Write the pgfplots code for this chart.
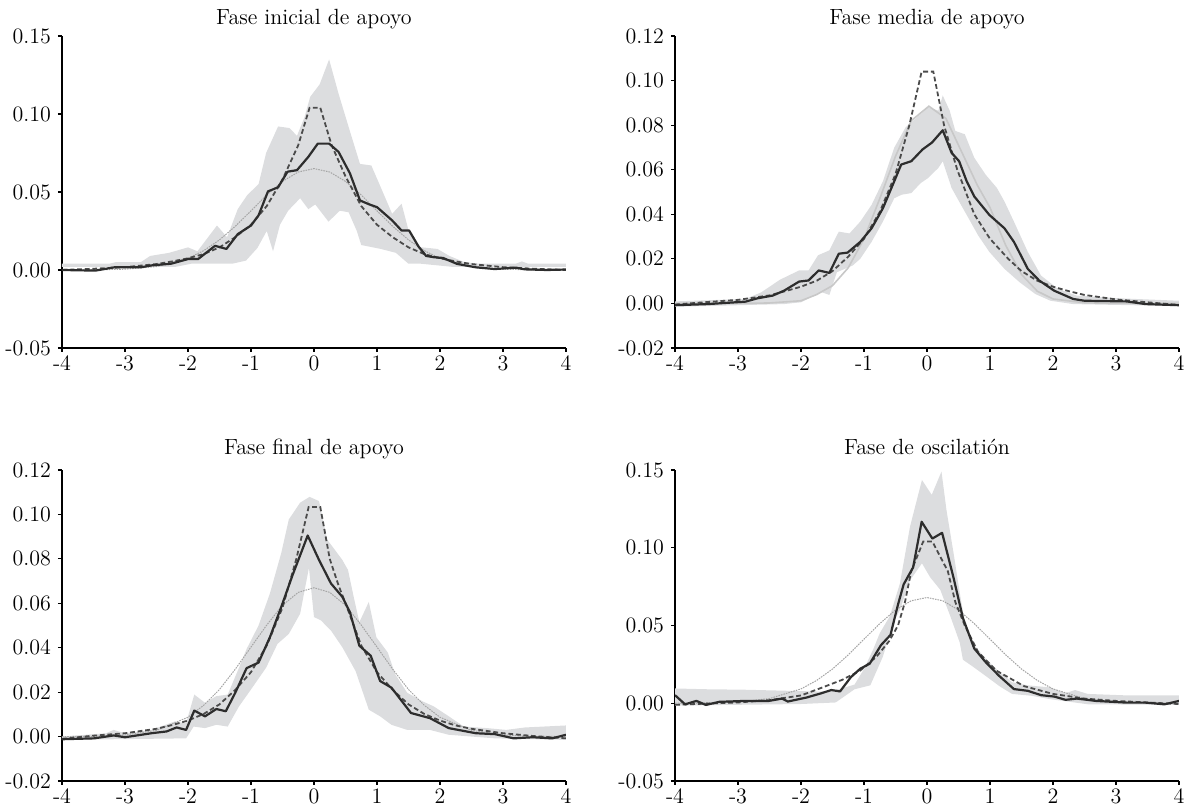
\documentclass[border=0pt]{standalone}
\usepackage{pgfplots}
\pgfplotsset{compat=1.18}
\definecolor{bandc}{RGB}{220,221,223}
\definecolor{solidc}{RGB}{45,45,45}
\definecolor{dashc}{RGB}{75,75,75}
\definecolor{normc}{RGB}{165,165,165}
\pgfplotsset{
  panel/.style={
    anchor=south west, scale only axis, width=252pt,
    xmin=-4, xmax=4, enlargelimits=false,
    axis x line*=bottom, axis y line*=left,
    axis line style={line width=0.6pt, black},
    xtick={-4,-3,-2,-1,0,1,2,3,4},
    xticklabels={-4,-3,-2,-1,0,1,2,3,4},
    tick align=outside, major tick length=2pt,
    tick style={line width=0.6pt, black},
    tick label style={font=\fontsize{11}{13}\selectfont},
    xticklabel style={yshift=1.5pt},
    title style={font=\fontsize{11}{13}\selectfont, at={(0.5,1)}, anchor=base},
  },
  bandfill/.style={fill=bandc, draw=none, forget plot},
  solidl/.style={solidc, line width=1.1pt, line join=round},
  dashl/.style={dashc, line width=0.9pt, dash pattern=on 2.4pt off 1.4pt},
  norml/.style={normc, line width=0.5pt, dash pattern=on 0.8pt off 0.5pt},
}
\begin{document}
\begin{tikzpicture}
\path[use as bounding box] (0,0) rectangle (594pt,403.5pt);

% ---------------- Panel 1 ----------------
\begin{axis}[panel, at={(31pt,229.5pt)}, height=156pt,
  ymin=-0.05, ymax=0.15,
  ytick={-0.05,0,0.05,0.1,0.15}, yticklabels={-0.05,0.00,0.05,0.10,0.15},
  title={Fase inicial de apoyo}, title style={yshift=-0.5pt}]
\addplot[bandfill] coordinates {
(-4,0.004) (-3.25,0.004) (-3.15,0.005) (-2.75,0.005) (-2.6,0.009) (-2.3,0.011) (-2.0,0.0145) (-1.85,0.012) (-1.54,0.0285) (-1.38,0.021) (-1.21,0.039) (-1.06,0.048) (-0.88,0.055) (-0.76,0.075) (-0.57,0.092) (-0.39,0.091) (-0.27,0.086) (-0.15,0.098) (-0.06,0.111) (0.09,0.119) (0.24,0.135) (0.39,0.113) (0.57,0.089) (0.73,0.068) (0.91,0.067) (1.06,0.053) (1.24,0.036) (1.39,0.0425) (1.51,0.024) (1.69,0.0146) (1.96,0.0135) (2.15,0.009) (2.39,0.005) (2.63,0.004) (3.2,0.004) (3.3,0.0055) (3.4,0.004) (4,0.004)
(4,0.002) (2.2,0.002) (1.7,0.004) (1.5,0.004) (1.3,0.011) (1.06,0.0135) (0.75,0.016) (0.68,0.025) (0.55,0.037) (0.41,0.038) (0.23,0.031) (0.02,0.042) (-0.09,0.039) (-0.22,0.046) (-0.41,0.038) (-0.54,0.029) (-0.65,0.012) (-0.75,0.025) (-0.9,0.014) (-1.08,0.006) (-1.3,0.004) (-1.95,0.004) (-2.2,0.002) (-4,0.002)};
\addplot[norml] coordinates {
(-4,0) (-3.5,0.0001) (-3,0.0005) (-2.5,0.0022) (-2,0.0075) (-1.75,0.0124) (-1.5,0.0193) (-1.25,0.028) (-1,0.0379) (-0.75,0.0481) (-0.5,0.0568) (-0.25,0.0628) (0,0.065) (0.25,0.0628) (0.5,0.0568) (0.75,0.0481) (1,0.0379) (1.25,0.028) (1.5,0.0193) (1.75,0.0124) (2,0.0075) (2.5,0.0022) (3,0.0005) (3.5,0.0001) (4,0)};
\addplot[dashl] coordinates {
(-4,0) (-3.5,0.0008) (-3,0.0018) (-2.5,0.0038) (-2.25,0.0055) (-2,0.0075) (-1.75,0.0102) (-1.5,0.0145) (-1.25,0.021) (-1,0.029) (-0.75,0.041) (-0.5,0.058) (-0.25,0.08) (-0.07,0.104) (0.1,0.104) (0.28,0.08) (0.5,0.06) (0.75,0.041) (1,0.029) (1.25,0.021) (1.5,0.0145) (1.75,0.0102) (2,0.0075) (2.25,0.0055) (2.5,0.0038) (3,0.0018) (3.5,0.0008) (4,0)};
\addplot[solidl] coordinates {
(-4,0) (-3.47,-0.0004) (-3.17,0.0017) (-2.75,0.0017) (-2.57,0.003) (-2.27,0.004) (-2.0,0.007) (-1.84,0.007) (-1.57,0.0155) (-1.39,0.0135) (-1.21,0.023) (-1.0,0.0285) (-0.88,0.035) (-0.73,0.0504) (-0.57,0.053) (-0.42,0.063) (-0.27,0.064) (-0.09,0.0725) (0.06,0.081) (0.24,0.081) (0.39,0.0757) (0.57,0.062) (0.73,0.0446) (0.88,0.042) (1.0,0.0403) (1.24,0.0318) (1.39,0.0253) (1.51,0.0253) (1.66,0.015) (1.78,0.009) (1.9,0.0082) (2.05,0.0077) (2.27,0.0039) (2.57,0.0017) (2.87,0.0006) (3.2,0.0015) (3.35,0.0004) (3.7,0) (4,0.0003)};
\end{axis}

% ---------------- Panel 2 ----------------
\begin{axis}[panel, at={(337.5pt,229.5pt)}, height=156pt,
  ymin=-0.02, ymax=0.12,
  ytick={-0.02,0,0.02,0.04,0.06,0.08,0.1,0.12}, yticklabels={-0.02,0.00,0.02,0.04,0.06,0.08,0.10,0.12},
  title={Fase media de apoyo}, title style={yshift=-0.5pt}]
\addplot[bandfill] coordinates {
(-4,0.0009) (-2.88,0.002) (-2.63,0.005) (-2.33,0.0107) (-2.03,0.0148) (-1.88,0.0148) (-1.73,0.0216) (-1.55,0.0238) (-1.40,0.0322) (-1.23,0.0314) (-1.06,0.0367) (-0.88,0.0442) (-0.70,0.0548) (-0.52,0.0699) (-0.34,0.079) (-0.16,0.0835) (0.02,0.088) (0.18,0.0865) (0.25,0.0933) (0.36,0.0865) (0.45,0.0774) (0.60,0.0759) (0.75,0.0654) (0.93,0.0578) (1.11,0.0518) (1.23,0.0457) (1.38,0.0367) (1.60,0.0231) (1.81,0.0125) (2.08,0.0065) (2.38,0.0035) (3.05,0.0023) (4,0.0012)
(4,-0.0012) (2.32,-0.0003) (1.96,0.0012) (1.72,0.0042) (1.47,0.0095) (1.23,0.0155) (0.99,0.0231) (0.81,0.0306) (0.66,0.0382) (0.51,0.0457) (0.39,0.0518) (0.25,0.0638) (0.18,0.0608) (0.02,0.0563) (-0.10,0.054) (-0.25,0.0495) (-0.40,0.0488) (-0.52,0.0472) (-0.7,0.0367) (-0.88,0.0276) (-1.06,0.020) (-1.18,0.017) (-1.43,0.014) (-1.55,0.0038) (-1.67,0.005) (-1.79,0.0035) (-2.0,0.0005) (-2.27,-0.0003) (-4,-0.0015)};
\addplot[color={rgb,255:red,200;green,200;blue,200}, line width=0.8pt] coordinates {
(-4,0) (-3,0) (-2.5,0.0002) (-2,0.0012) (-1.75,0.004) (-1.5,0.008) (-1.25,0.016) (-1,0.029) (-0.75,0.047) (-0.5,0.066) (-0.25,0.082) (0.03,0.0885) (0.3,0.083) (0.55,0.068) (0.8,0.053) (1.0,0.043) (1.25,0.026) (1.5,0.013) (1.75,0.0055) (2,0.002) (2.5,0.0003) (3,0) (4,0)};
\addplot[dashl] coordinates {
(-4,-0.0005) (-3.5,0.0006) (-3,0.0016) (-2.5,0.0036) (-2.25,0.0055) (-2,0.0075) (-1.75,0.0102) (-1.5,0.0145) (-1.25,0.021) (-1,0.029) (-0.75,0.041) (-0.5,0.058) (-0.28,0.08) (-0.085,0.104) (0.1,0.104) (0.27,0.08) (0.48,0.06) (0.75,0.04) (1,0.029) (1.29,0.02) (1.5,0.0145) (1.75,0.0102) (2,0.0075) (2.25,0.0055) (2.5,0.0038) (3,0.0018) (3.5,0.0005) (4,-0.0007)};
\addplot[solidl] coordinates {
(-4,-0.0008) (-3.48,-0.0003) (-2.88,0.0008) (-2.69,0.0023) (-2.45,0.0035) (-2.27,0.0057) (-2.03,0.0098) (-1.88,0.0103) (-1.72,0.0148) (-1.55,0.0137) (-1.40,0.0223) (-1.26,0.0228) (-1.06,0.0276) (-0.88,0.0337) (-0.70,0.0427) (-0.52,0.0548) (-0.41,0.0623) (-0.25,0.0638) (-0.07,0.0691) (0.08,0.0722) (0.25,0.0777) (0.39,0.0676) (0.51,0.0638) (0.63,0.0548) (0.75,0.048) (0.99,0.0397) (1.23,0.0337) (1.38,0.0276) (1.60,0.0155) (1.78,0.0103) (2.02,0.0057) (2.32,0.002) (2.50,0.0012) (3.17,0.0009) (3.47,-0.0003) (4,-0.0008)};
\end{axis}

% ---------------- Panel 3 ----------------
\begin{axis}[panel, at={(31pt,13pt)}, height=155.5pt,
  ymin=-0.02, ymax=0.12,
  ytick={-0.02,0,0.02,0.04,0.06,0.08,0.1,0.12}, yticklabels={-0.02,0.00,0.02,0.04,0.06,0.08,0.10,0.12},
  title={Fase final de apoyo}, title style={yshift=1.7pt}]
\addplot[bandfill] coordinates {
(-4,0.0) (-3.3,0.0015) (-3.18,0.003) (-3.0,0.0015) (-2.58,0.003) (-2.21,0.0068) (-2.03,0.006) (-1.90,0.0189) (-1.73,0.0152) (-1.55,0.0182) (-1.37,0.0189) (-1.19,0.031) (-1.07,0.0394) (-0.88,0.05) (-0.70,0.0644) (-0.52,0.0826) (-0.40,0.0977) (-0.22,0.1053) (-0.07,0.1079) (0.08,0.106) (0.21,0.0886) (0.33,0.0841) (0.45,0.0795) (0.54,0.075) (0.63,0.0629) (0.72,0.0515) (0.87,0.0606) (0.99,0.0447) (1.17,0.0379) (1.29,0.028) (1.48,0.0197) (1.72,0.0159) (1.90,0.0136) (2.14,0.0091) (2.38,0.0045) (2.75,0.0038) (3.05,0.003) (3.35,0.0041) (4,0.005)
(4,-0.0015) (2.87,-0.0008) (2.14,0.0008) (1.84,0.003) (1.48,0.003) (1.23,0.0053) (1.05,0.0091) (0.87,0.0121) (0.66,0.0295) (0.45,0.0402) (0.27,0.0477) (0.11,0.0523) (0.0,0.0538) (-0.08,0.076) (-0.22,0.0553) (-0.4,0.0462) (-0.58,0.0417) (-0.76,0.031) (-1.0,0.0212) (-1.19,0.0136) (-1.37,0.0045) (-1.55,0.0053) (-1.73,0.0038) (-1.91,0.0045) (-2.03,-0.0008) (-4,-0.0015)};
\addplot[norml] coordinates {
(-4,0) (-3.5,0.0001) (-3,0.0007) (-2.5,0.0028) (-2,0.0087) (-1.75,0.0141) (-1.5,0.0212) (-1.25,0.0303) (-1,0.0403) (-0.75,0.0502) (-0.5,0.0591) (-0.25,0.0649) (0,0.067) (0.25,0.0649) (0.5,0.0591) (0.75,0.0502) (1,0.0403) (1.25,0.0303) (1.5,0.0212) (1.75,0.0141) (2,0.0087) (2.5,0.0028) (3,0.0007) (3.5,0.0001) (4,0)};
\addplot[dashl] coordinates {
(-4,-0.001) (-3.5,0.0004) (-3,0.0015) (-2.5,0.0035) (-2.25,0.0052) (-2,0.0072) (-1.75,0.0102) (-1.5,0.0145) (-1.25,0.021) (-1,0.029) (-0.75,0.041) (-0.5,0.058) (-0.28,0.08) (-0.085,0.1033) (0.1,0.1033) (0.25,0.08) (0.39,0.068) (0.5,0.06) (0.75,0.041) (1,0.029) (1.25,0.021) (1.5,0.0145) (1.75,0.0102) (2,0.0072) (2.25,0.005) (2.5,0.0035) (3,0.0015) (3.5,0.0002) (4,-0.0008)};
\addplot[solidl] coordinates {
(-4,-0.0012) (-3.49,-0.0008) (-3.18,0.0005) (-3.0,-0.0003) (-2.58,0.0015) (-2.34,0.0023) (-2.18,0.0041) (-2.03,0.003) (-1.90,0.0117) (-1.73,0.0091) (-1.55,0.0124) (-1.40,0.0114) (-1.25,0.0197) (-1.07,0.0308) (-0.88,0.0333) (-0.70,0.0447) (-0.52,0.0583) (-0.34,0.0727) (-0.10,0.0905) (0.08,0.0795) (0.27,0.0689) (0.45,0.0629) (0.57,0.056) (0.72,0.0409) (0.90,0.0364) (1.05,0.025) (1.23,0.022) (1.54,0.0106) (1.84,0.0083) (2.14,0.0038) (2.57,0.0015) (2.87,0.0011) (3.17,-0.0008) (3.47,-0.0003) (3.78,-0.0008) (4,0.0008)};
\end{axis}

% ---------------- Panel 4 ----------------
\begin{axis}[panel, at={(337.5pt,13pt)}, height=155.5pt,
  ymin=-0.05, ymax=0.15,
  ytick={-0.05,0,0.05,0.1,0.15}, yticklabels={-0.05,0.00,0.05,0.10,0.15},
  title={Fase de oscilatión}, title style={yshift=1.7pt}]
\addplot[bandfill] coordinates {
(-4,0.0095) (-3.5,0.009) (-2.9,0.0087) (-2.2,0.008) (-1.7,0.0075) (-1.4,0.009) (-1.15,0.012) (-1.0,0.022) (-0.85,0.035) (-0.75,0.045) (-0.59,0.056) (-0.43,0.077) (-0.27,0.1135) (-0.08,0.1436) (0.075,0.134) (0.23,0.149) (0.31,0.124) (0.42,0.097) (0.52,0.071) (0.60,0.052) (0.7,0.04) (0.9,0.03) (1.1,0.022) (1.35,0.0135) (1.6,0.0115) (1.95,0.0102) (2.2,0.0065) (2.35,0.0085) (2.55,0.006) (3.2,0.005) (4,0.005)
(4,-0.001) (2.56,-0.0007) (1.96,0.0026) (1.66,0.0048) (1.35,0.006) (1.16,0.0107) (0.95,0.017) (0.73,0.0235) (0.57,0.028) (0.52,0.039) (0.37,0.056) (0.21,0.073) (0.05,0.081) (-0.08,0.09) (-0.27,0.079) (-0.43,0.06) (-0.54,0.0515) (-0.7,0.03) (-0.9,0.0115) (-1.15,0.009) (-1.45,0.0005) (-2,-0.0005) (-4,-0.0015)};
\addplot[norml] coordinates {
(-4,0) (-3.5,0.0002) (-3,0.0008) (-2.5,0.003) (-2,0.0092) (-1.75,0.0147) (-1.5,0.022) (-1.25,0.0311) (-1,0.0412) (-0.75,0.0512) (-0.5,0.06) (-0.25,0.0659) (0,0.068) (0.25,0.0659) (0.5,0.06) (0.75,0.0512) (1,0.0412) (1.25,0.0311) (1.5,0.022) (1.75,0.0147) (2,0.0092) (2.5,0.003) (3,0.0008) (3.5,0.0002) (4,0)};
\addplot[dashl] coordinates {
(-4,-0.001) (-3,0.0005) (-2.5,0.002) (-2,0.005) (-1.67,0.01) (-1.35,0.015) (-1.06,0.021) (-0.8,0.03) (-0.6,0.04) (-0.46,0.05) (-0.35,0.065) (-0.25,0.085) (-0.06,0.104) (0.085,0.104) (0.33,0.085) (0.45,0.065) (0.6,0.05) (0.81,0.033) (1.1,0.021) (1.54,0.011) (2,0.006) (2.5,0.003) (3,0.0015) (3.5,0.0005) (4,-0.0005)};
\addplot[solidl] coordinates {
(-4,0.0052) (-3.84,-0.0007) (-3.66,0.0015) (-3.51,-0.0011) (-3.30,0.0009) (-2.88,0.0015) (-2.51,0.0015) (-2.30,0.003) (-2.21,0.0011) (-1.91,0.0037) (-1.67,0.0065) (-1.52,0.0085) (-1.38,0.0076) (-1.21,0.0167) (-1.06,0.0222) (-0.91,0.0254) (-0.73,0.0374) (-0.58,0.0439) (-0.46,0.0635) (-0.37,0.0765) (-0.22,0.0874) (-0.085,0.1167) (0.085,0.1059) (0.24,0.1096) (0.42,0.0809) (0.57,0.0548) (0.75,0.0352) (0.93,0.0265) (1.14,0.0178) (1.38,0.0091) (1.60,0.008) (1.81,0.0052) (2.02,0.0043) (2.20,0.0022) (2.38,0.003) (2.68,0.0015) (3.17,0.0004) (3.47,0.0004) (3.77,-0.0007) (4,0.0015)};
\end{axis}
\end{tikzpicture}
\end{document}
